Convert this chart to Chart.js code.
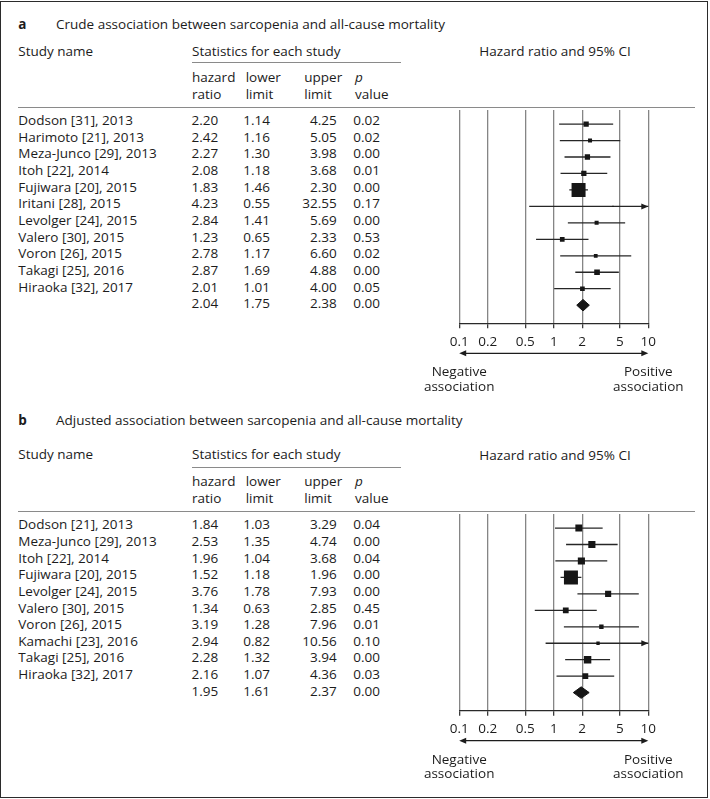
<!DOCTYPE html>
<html>
<head>
<meta charset="utf-8">
<script src="https://cdn.jsdelivr.net/npm/chart.js@4.4.0/dist/chart.umd.min.js"></script>
<style>
html,body{margin:0;padding:0;background:#fff;overflow:hidden;}
#page{position:relative;width:710px;height:799px;overflow:hidden;font-family:"Open Sans",sans-serif;font-size:13.5px;color:#1c1c1c;}
.t{position:absolute;white-space:pre;line-height:18px;height:18px;z-index:2;}
.b{font-weight:700;}
.i{font-style:italic;}
.hl{position:absolute;height:1.3px;background:#8a8a8a;z-index:2;}
canvas{position:absolute;z-index:1;}
#frame{position:absolute;left:0;top:1px;width:708px;height:797px;border:1.5px solid #2b2b2b;box-sizing:border-box;z-index:3;pointer-events:none;}
</style>
</head>
<body>
<div id="page"><div id="frame"></div></div>
<script>
// ---------------- data ----------------
const titleA = 'Crude association between sarcopenia and all-cause mortality';
const studyNamesA = ['Dodson [31], 2013','Harimoto [21], 2013','Meza-Junco [29], 2013','Itoh [22], 2014','Fujiwara [20], 2015','Iritani [28], 2015','Levolger [24], 2015','Valero [30], 2015','Voron [26], 2015','Takagi [25], 2016','Hiraoka [32], 2017'];
const hazardRatioA = [2.20, 2.42, 2.27, 2.08, 1.83, 4.23, 2.84, 1.23, 2.78, 2.87, 2.01];
const lowerLimitA  = [1.14, 1.16, 1.30, 1.18, 1.46, 0.55, 1.41, 0.65, 1.17, 1.69, 1.01];
const upperLimitA  = [4.25, 5.05, 3.98, 3.68, 2.30, 32.55, 5.69, 2.33, 6.60, 4.88, 4.00];
const pValueA      = [0.02, 0.02, 0.00, 0.01, 0.00, 0.17, 0.00, 0.53, 0.02, 0.00, 0.05];
const weightA      = [6.9, 4.0, 6.9, 6.9, 48.5, 0.5, 4.0, 5.4, 3.5, 7.9, 5.4];
const pooledA      = [2.04, 1.75, 2.38, 0.00];

const titleB = 'Adjusted association between sarcopenia and all-cause mortality';
const studyNamesB = ['Dodson [21], 2013','Meza-Junco [29], 2013','Itoh [22], 2014','Fujiwara [20], 2015','Levolger [24], 2015','Valero [30], 2015','Voron [26], 2015','Kamachi [23], 2016','Takagi [25], 2016','Hiraoka [32], 2017'];
const hazardRatioB = [1.84, 2.53, 1.96, 1.52, 3.76, 1.34, 3.19, 2.94, 2.28, 2.16];
const lowerLimitB  = [1.03, 1.35, 1.04, 1.18, 1.78, 0.63, 1.28, 0.82, 1.32, 1.07];
const upperLimitB  = [3.29, 4.74, 3.68, 1.96, 7.93, 2.85, 7.96, 10.56, 3.94, 4.36];
const pValueB      = [0.04, 0.00, 0.04, 0.00, 0.00, 0.45, 0.01, 0.10, 0.00, 0.03];
const weightB      = [8.8, 9.5, 9.5, 36.6, 7.0, 6.2, 3.6, 2.1, 10.3, 6.2];
const pooledB      = [1.95, 1.61, 2.37, 0.00];

const xTicks      = [0.1, 0.2, 0.5, 1, 2, 5, 10];
const xTickLabels = ['0.1', '0.2', '0.5', '1', '2', '5', '10'];
const columnHeads = [['hazard','ratio'], ['lower','limit'], ['upper','limit'], ['p','value']];
const headStudy = 'Study name';
const headStats = 'Statistics for each study';
const headCI = 'Hazard ratio and 95% CI';
const negLabel = ['Negative', 'association'];
const posLabel = ['Positive', 'association'];

// ---------------- layout / style ----------------
const page = document.getElementById('page');
const FONT = '"Open Sans", sans-serif';
const BASE_OFF = 14.24;          // baseline offset inside an 18px line box at 13.5px
const INK = '#1c1c1c';
const GRID = '#858585';
const MAX_BOX = 14;              // side (px) of the largest weight box
const AXIS_H = 62;
const CANVAS_LEFT = 440, CANVAS_W = 270;
const PLOT_L = 459.2, PLOT_R = 648.3;
const COL_LEFT = [192, 245.7, 304.3, 355];
const COL_RIGHT = [218.3, 270, 336.7, 380];

function txt(str, x, base, align, cls) {
  const d = document.createElement('div');
  d.className = 't' + (cls ? ' ' + cls : '');
  d.textContent = str;
  if (align === 'right') { d.style.left = (x - 300) + 'px'; d.style.width = '300px'; d.style.textAlign = 'right'; }
  else if (align === 'center') { d.style.left = (x - 150) + 'px'; d.style.width = '300px'; d.style.textAlign = 'center'; }
  else d.style.left = x + 'px';
  d.style.top = (base - BASE_OFF) + 'px';
  page.appendChild(d);
}
function hline(x1, x2, y) {
  const d = document.createElement('div');
  d.className = 'hl';
  d.style.left = x1 + 'px'; d.style.width = (x2 - x1) + 'px'; d.style.top = (y - 0.65) + 'px';
  page.appendChild(d);
}

const forestPlugin = {
  id: 'forestExtras',
  afterDatasetsDraw(chart) {
    const {ctx, scales: {x, y}} = chart;
    const p = chart.options.plugins.forestExtras;
    const xmax = x.max, xmin = x.min;
    ctx.save();
    ctx.fillStyle = INK;
    p.upper.forEach((u, i) => {
      if (u > xmax) {
        const tx = x.getPixelForValue(xmax), ty = y.getPixelForValue(i);
        ctx.beginPath(); ctx.moveTo(tx, ty); ctx.lineTo(tx - 7, ty - 3); ctx.lineTo(tx - 7, ty + 3); ctx.closePath(); ctx.fill();
      }
      if (p.lower[i] < xmin) {
        const tx = x.getPixelForValue(xmin), ty = y.getPixelForValue(i);
        ctx.beginPath(); ctx.moveTo(tx, ty); ctx.lineTo(tx + 7, ty - 3); ctx.lineTo(tx + 7, ty + 3); ctx.closePath(); ctx.fill();
      }
    });
    ctx.restore();
  },
  afterDraw(chart) {
    const {ctx, chartArea, scales: {x}} = chart;
    const yy = chartArea.bottom + 30;
    const x1 = x.getPixelForValue(x.min), x2 = x.getPixelForValue(x.max);
    ctx.save();
    ctx.strokeStyle = INK; ctx.fillStyle = INK; ctx.lineWidth = 1.3;
    ctx.beginPath(); ctx.moveTo(x1 + 4, yy); ctx.lineTo(x2 - 4, yy); ctx.stroke();
    ctx.beginPath(); ctx.moveTo(x1, yy); ctx.lineTo(x1 + 7, yy - 3); ctx.lineTo(x1 + 7, yy + 3); ctx.closePath(); ctx.fill();
    ctx.beginPath(); ctx.moveTo(x2, yy); ctx.lineTo(x2 - 7, yy - 3); ctx.lineTo(x2 - 7, yy + 3); ctx.closePath(); ctx.fill();
    ctx.restore();
  }
};

const panels = [
  {letter: 'a', title: titleA, names: studyNamesA, hr: hazardRatioA, lo: lowerLimitA, hi: upperLimitA, p: pValueA, w: weightA, pooled: pooledA,
   titleBase: 29, headBase: 56.7, ciHeadBase: 56.4, underlineY: 62.7, sub1: 82.3, sub2: 99, ruleY: 107.3, axisY: 323.3, canvasTop: 100},
  {letter: 'b', title: titleB, names: studyNamesB, hr: hazardRatioB, lo: lowerLimitB, hi: upperLimitB, p: pValueB, w: weightB, pooled: pooledB,
   titleBase: 425.5, headBase: 459, ciHeadBase: 460.6, underlineY: 467.2, sub1: 486.7, sub2: 503.3, ruleY: 511.7, axisY: 710.7, canvasTop: 504}
];

panels.forEach(P => {
  const n = P.names.length;          // pooled row index = n
  const yMin = -0.86, yMax = n + 1.1;
  const pitch = (P.axisY - P.ruleY) / (yMax - yMin);
  const rowY = i => P.ruleY + (i - yMin) * pitch;

  // headers
  txt(P.letter, 18.3, P.titleBase, 'left', 'b');
  txt(P.title, 56, P.titleBase);
  txt(headStudy, 18.3, P.headBase);
  txt(headStats, 192, P.headBase);
  hline(191.7, 400.7, P.underlineY);
  columnHeads.forEach((h, c) => {
    txt(h[0], COL_LEFT[c], P.sub1, 'left', c === 3 ? 'i' : '');
    txt(h[1], COL_LEFT[c], P.sub2);
  });
  hline(18.3, 695, P.ruleY);

  // table rows
  const rows = P.names.map((nm, i) => [nm, P.hr[i], P.lo[i], P.hi[i], P.p[i]]);
  rows.push(['', P.pooled[0], P.pooled[1], P.pooled[2], P.pooled[3]]);
  rows.forEach((r, i) => {
    const base = rowY(i) + 3.6;
    if (r[0]) txt(r[0], 18.3, base);
    for (let c = 0; c < 4; c++) txt(r[c + 1].toFixed(2), COL_RIGHT[c], base, 'right');
  });

  // chart
  const canvas = document.createElement('canvas');
  const ch = Math.ceil(P.axisY - P.canvasTop + AXIS_H + 2);
  canvas.width = CANVAS_W; canvas.height = ch;
  canvas.style.left = CANVAS_LEFT + 'px'; canvas.style.top = P.canvasTop + 'px';
  canvas.style.width = CANVAS_W + 'px'; canvas.style.height = ch + 'px';
  page.appendChild(canvas);

  const maxW = Math.max(...P.w);
  const boxRadius = P.w.map(w => MAX_BOX * Math.sqrt(w / maxW) / Math.SQRT2);
  const ciSets = P.names.map((nm, i) => ({
    label: nm, data: [{x: P.lo[i], y: i}, {x: P.hi[i], y: i}],
    showLine: true, borderColor: '#262626', borderWidth: 1.3, pointRadius: 0, order: 3
  }));
  const h = 0.35;
  const k = n;
  const diamond = {
    label: 'pooled',
    data: [{x: P.pooled[1], y: k}, {x: P.pooled[0], y: k - h}, {x: P.pooled[2], y: k}, {x: P.pooled[0], y: k + h}, {x: P.pooled[1], y: k}],
    showLine: true, fill: 'shape', backgroundColor: '#161616', borderColor: '#161616', borderWidth: 1, pointRadius: 0, order: 1
  };
  const boxes = {
    label: 'studies',
    data: P.hr.map((v, i) => ({x: v, y: i})),
    pointStyle: 'rect', pointRadius: boxRadius, pointHoverRadius: boxRadius,
    backgroundColor: '#161616', borderWidth: 0, pointBorderWidth: 0, order: 0
  };

  const chart = new Chart(canvas, {
    type: 'scatter',
    data: {datasets: [boxes, diamond, ...ciSets]},
    options: {
      responsive: false, animation: false, events: [],
      devicePixelRatio: 1,
      layout: {padding: {left: PLOT_L - CANVAS_LEFT, right: CANVAS_LEFT + CANVAS_W - PLOT_R,
                         top: P.ruleY - P.canvasTop, bottom: ch - AXIS_H - (P.axisY - P.canvasTop)}},
      plugins: {legend: {display: false}, tooltip: {enabled: false},
                forestExtras: {upper: P.hi, lower: P.lo}},
      scales: {
        x: {
          type: 'logarithmic', position: 'bottom', min: xTicks[0], max: xTicks[xTicks.length - 1],
          afterBuildTicks: s => { s.ticks = xTicks.map(v => ({value: v})); },
          afterFit: s => { s.height = AXIS_H; },
          grid: {color: GRID, lineWidth: 1.3, drawTicks: true, tickLength: 5, tickColor: '#3a3a3a', drawOnChartArea: true},
          border: {display: true, color: '#2a2a2a', width: 1.3},
          ticks: {autoSkip: false, maxRotation: 0, minRotation: 0, padding: 5.4, color: INK,
                  font: {family: FONT, size: 13.5}, callback: (v, i) => xTickLabels[i]}
        },
        y: {type: 'linear', reverse: true, min: yMin, max: yMax, display: false}
      }
    },
    plugins: [forestPlugin]
  });

  const xs = chart.scales.x;
  const xl = CANVAS_LEFT + xs.getPixelForValue(xs.min);
  const xr = CANVAS_LEFT + xs.getPixelForValue(xs.max);
  txt(headCI, CANVAS_LEFT + xs.getPixelForValue(1) + 1.3, P.ciHeadBase, 'center');
  txt(negLabel[0], xl, P.axisY + 53.4, 'center');
  txt(negLabel[1], xl, P.axisY + 67.5, 'center');
  txt(posLabel[0], xr, P.axisY + 53.4, 'center');
  txt(posLabel[1], xr, P.axisY + 67.5, 'center');
});
</script>
</body>
</html>
